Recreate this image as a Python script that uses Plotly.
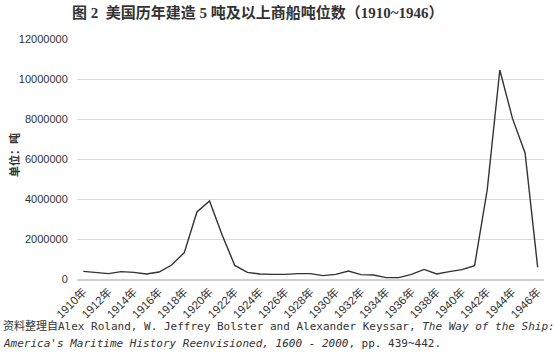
import plotly.graph_objects as go

years = list(range(1910, 1947))
categories = [f"{y}年" for y in years]
tonnage = [380000, 320000, 270000, 370000, 330000, 250000, 350000, 700000, 1320000,
           3350000, 3900000, 2200000, 680000, 330000, 250000, 230000, 230000, 270000,
           270000, 170000, 230000, 400000, 220000, 200000, 70000, 70000, 230000,
           480000, 250000, 370000, 470000, 670000, 4450000, 10450000, 8030000,
           6300000, 580000]
y_ticks = [0, 2000000, 4000000, 6000000, 8000000, 10000000, 12000000]
x_tick_labels = categories[::2]

title_text = "图 2  美国历年建造 5 吨及以上商船吨位数（1910~1946）"
y_title = "单位：吨"
note1 = "资料整理自Alex Roland, W. Jeffrey Bolster and Alexander Keyssar, <i>The Way of the Ship:</i>"
note2 = "<i>America's Maritime History Reenvisioned, 1600 - 2000</i>, pp. 439~442."

fig = go.Figure()
fig.add_trace(go.Scatter(x=categories, y=tonnage, mode="lines",
                         line=dict(color="#333333", width=1.4), showlegend=False))

L, R, T, B = 77, 10, 39, 75
W, H = 554, 354
pw, ph = W - L - R, H - T - B

fig.update_layout(
    width=W, height=H,
    margin=dict(l=L, r=R, t=T, b=B),
    paper_bgcolor="white", plot_bgcolor="white",
    font=dict(family="Arial, Liberation Sans, Noto Sans CJK SC", color="#333333"),
    xaxis=dict(type="category", range=[-0.5, len(categories) - 0.5],
               tickmode="array", tickvals=x_tick_labels, ticktext=x_tick_labels,
               tickangle=-45, tickfont=dict(size=11.5, color="#333333",
                                            family="Arial, Noto Sans CJK SC"),
               showgrid=False, showline=True, linecolor="#d0d0d0", linewidth=1.5,
               ticks="", zeroline=False),
    yaxis=dict(range=[0, 12000000], tickvals=y_ticks,
               ticktext=[str(v) for v in y_ticks],
               tickfont=dict(size=11, color="#333333"),
               showgrid=True, gridcolor="#d9d9d9", gridwidth=1.2,
               zeroline=False, showline=False, ticks="outside", ticklen=6,
               tickcolor="rgba(0,0,0,0)"),
)

def px_x(x):
    return (x - L) / pw

def px_y(y):
    return (H - B - y) / ph

fig.add_annotation(text=f"<b>{title_text}</b>", xref="paper", yref="paper",
                   x=px_x(258), y=px_y(13), xanchor="center", yanchor="middle",
                   showarrow=False,
                   font=dict(size=15, color="#333333",
                             family="Liberation Serif, Noto Sans CJK SC"),
                   )
fig.add_annotation(text=f"<b>{y_title}</b>", xref="paper", yref="paper",
                   x=px_x(14), y=px_y(155), xanchor="center", yanchor="middle",
                   textangle=-90, showarrow=False,
                   font=dict(size=11, color="#333333", family="Noto Sans CJK SC"))
fig.add_annotation(text=note1, xref="paper", yref="paper",
                   x=px_x(1), y=px_y(326), xanchor="left", yanchor="middle",
                   showarrow=False,
                   font=dict(size=11, color="#333333",
                             family="DejaVu Sans Mono, Noto Sans CJK SC"))
fig.add_annotation(text=note2, xref="paper", yref="paper",
                   x=px_x(1), y=px_y(343), xanchor="left", yanchor="middle",
                   showarrow=False,
                   font=dict(size=11, color="#333333",
                             family="DejaVu Sans Mono, Noto Sans CJK SC"))

fig.write_html("out.html")
